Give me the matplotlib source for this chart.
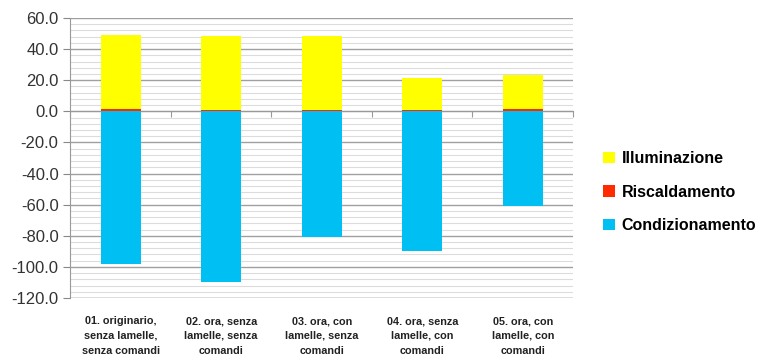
import matplotlib
matplotlib.use("Agg")
import matplotlib.pyplot as plt
import matplotlib.transforms as mtransforms
import numpy as np

categories = [
    "01. originario,\nsenza lamelle,\nsenza comandi",
    "02. ora, senza\nlamelle, senza\ncomandi",
    "03. ora, con\nlamelle, senza\ncomandi",
    "04. ora, senza\nlamelle, con\ncomandi",
    "05. ora, con\nlamelle, con\ncomandi",
]
illuminazione = [47.7, 47.8, 47.8, 21.0, 22.0]
riscaldamento = [1.4, 0.8, 0.7, 0.7, 1.4]
condizionamento = [-98.0, -110.0, -81.0, -90.0, -61.0]

plt.rcParams["font.family"] = ["Liberation Sans", "DejaVu Sans"]

fig = plt.figure(figsize=(7.65, 3.59), dpi=100)
ax = fig.add_axes([0.092, 0.17, 0.657, 0.78])

x = np.arange(len(categories))
w = 0.4
ax.bar(x, condizionamento, width=w, color="#00BFF3", label="Condizionamento", zorder=3)
ax.bar(x, riscaldamento, width=w, color="#FF2A00", label="Riscaldamento", zorder=3)
ax.bar(x, illuminazione, width=w, bottom=riscaldamento, color="#FFFF00",
       label="Illuminazione", zorder=3)

ax.set_xlim(-0.5, len(categories) - 0.5)
ax.set_ylim(-120, 60)
ax.set_yticks(np.arange(-120, 61, 20))
ax.set_yticklabels([f"{v:.1f}" for v in np.arange(-120, 61, 20)],
                   fontsize=12, color="#333333")
ax.set_yticks(np.arange(-120, 61, 4), minor=True)
ax.tick_params(axis="y", which="major", length=5, color="#888888", direction="out")
ax.tick_params(axis="y", which="minor", length=0)
ax.grid(axis="y", which="major", color="#a0a0a0", linewidth=1.0, zorder=0)
ax.grid(axis="y", which="minor", color="#dcdcdc", linewidth=0.8, zorder=0)

for s in ["top", "right"]:
    ax.spines[s].set_visible(False)
ax.spines["left"].set_color("#999999")
ax.spines["bottom"].set_position(("data", 0))
ax.spines["bottom"].set_color("#999999")
ax.set_xticks(np.arange(len(categories) + 1) - 0.5)
ax.set_xticklabels([])
ax.tick_params(axis="x", length=4, color="#999999", direction="out")
ax.axhline(-120, color="#a0a0a0", linewidth=1.0, zorder=1)

trans = mtransforms.blended_transform_factory(ax.transData, ax.transAxes)
for i, lab in enumerate(categories):
    ax.text(i, -0.065, lab, transform=trans, ha="center", va="top",
            fontsize=7.8, fontweight="bold", color="#222222", linespacing=1.6)

h, l = ax.get_legend_handles_labels()
ax.legend(h[::-1], l[::-1], loc="center left", bbox_to_anchor=(0.77, 0.465),
          bbox_transform=fig.transFigure, frameon=False, handlelength=0.7,
          handleheight=0.7, handletextpad=0.45, labelspacing=1.15,
          prop={"size": 11.5, "weight": "bold"})

fig.savefig("out.png", dpi=100)
